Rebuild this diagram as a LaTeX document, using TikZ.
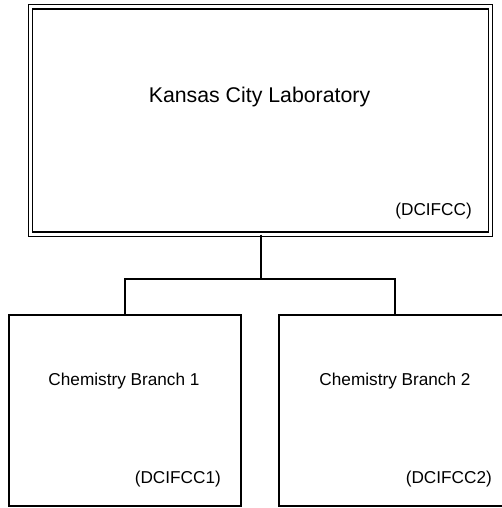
\documentclass[tikz,border=0pt]{standalone}
\usepackage{fontspec}
\setmainfont{Liberation Sans}
\usetikzlibrary{positioning}

\tikzset{
  unitbox/.style={draw, line width=1.6pt, minimum width=232pt, minimum height=191pt, inner sep=0pt},
  mainbox/.style={draw, double, line width=1.4pt, double distance=3pt, minimum width=460pt, minimum height=227pt, inner sep=0pt},
  bigtxt/.style={inner sep=0pt, font=\fontsize{21.3}{25}\selectfont},
  smalltxt/.style={inner sep=0pt, font=\fontsize{17.2}{20}\selectfont},
  link/.style={line width=1.8pt}
}

\begin{document}
\begin{tikzpicture}[x=1pt, y=-1pt]
  \useasboundingbox (0,0) rectangle (502,508);
  % boxes
  \node[mainbox] (lab) at (260.5,120.5) {};
  \node[unitbox] (br1) at (125,410.5) {};
  \node[unitbox] (br2) at (395,410.5) {};
  % texts
  \node[bigtxt, anchor=base] (labname) at (259.5,102.7) {Kansas City Laboratory};
  \node[smalltxt, anchor=base east] (labcode) at (472,215) {(DCIFCC)};
  \node[smalltxt, anchor=base] (br1name) at (124,385.3) {Chemistry Branch 1};
  \node[smalltxt, anchor=base east] (br1code) at (221,483) {(DCIFCC1)};
  \node[smalltxt, anchor=base] (br2name) at (395,385.3) {Chemistry Branch 2};
  \node[smalltxt, anchor=base east] (br2code) at (492,483) {(DCIFCC2)};
  % connectors
  \draw[link] ([xshift=0.5pt]lab.south) -- ++(0,44) coordinate (fork);
  \draw[link] (fork) -| (br1.north);
  \draw[link] (fork) -| (br2.north);
\end{tikzpicture}
\end{document}
